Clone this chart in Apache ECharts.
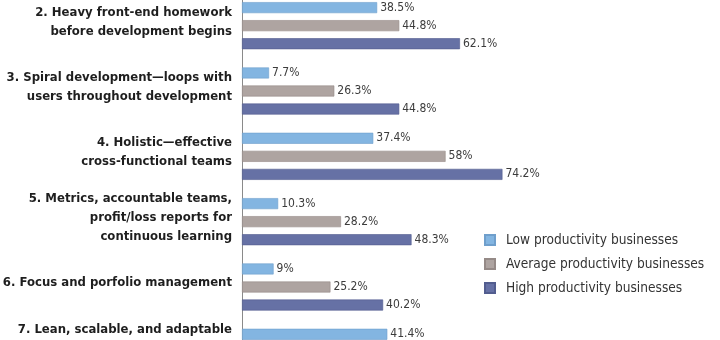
<!DOCTYPE html>
<html><head><meta charset="utf-8">
<script src="https://cdn.jsdelivr.net/npm/echarts@6/dist/echarts.min.js"></script>
<style>html,body{margin:0;padding:0;background:#fff}#c{width:720px;height:340px}</style>
</head><body><div id="c"></div>
<script>
const categories = [
  "2. Heavy front-end homework\nbefore development begins",
  "3. Spiral development\u2014loops with\nusers throughout development",
  "4. Holistic\u2014effective\ncross-functional teams",
  "5. Metrics, accountable teams,\nprofit/loss reports for\ncontinuous learning",
  "6. Focus and porfolio management",
  "7. Lean, scalable, and adaptable\n\n"
];
const seriesNames = ["Low productivity businesses", "Average productivity businesses", "High productivity businesses"];
const lowValues = [38.5, 7.7, 37.4, 10.3, 9, 41.4];
const avgValues = [44.8, 26.3, 58, 28.2, 25.2, null];
const highValues = [62.1, 44.8, 74.2, 48.3, 40.2, null];
const colors = ["#83b5e1", "#aea4a1", "#6671a5"];
const borders = ["#6f9fcc", "#958a87", "#525d8f"];

const FONT = "'Liberation Sans Narrow','DejaVu Sans Condensed','Arial Narrow',sans-serif";
const chart = echarts.init(document.getElementById('c'), null, {renderer: 'canvas'});
const mk = (name, data, i) => ({
  name, type: 'bar', data, barWidth: 11, barGap: '64%',
  itemStyle: {color: colors[i], borderColor: borders[i], borderWidth: 0.6},
  label: {show: true, position: 'right', distance: 3, formatter: p => p.value + '%',
          fontFamily: FONT, fontSize: 12, color: '#3c3c3c'},
  animation: false
});
const labelFmt = v => v.split('\n').map(l => '{a|' + (l || ' ') + '}').join('\n') + '\n{s| }';
chart.setOption({
  animation: false,
  textStyle: {fontFamily: FONT},
  grid: {left: 242, right: 127, top: -7, bottom: -45, containLabel: false, outerBoundsMode: 'none'},
  xAxis: {type: 'value', min: 0, max: 100, show: false},
  yAxis: {
    type: 'category', inverse: true, data: categories,
    axisLine: {show: true, lineStyle: {color: '#8a8a8a', width: 1}},
    axisTick: {show: false},
    splitLine: {show: false},
    axisLabel: {interval: 0, margin: 10, align: 'right', formatter: labelFmt,
                rich: {
                  a: {fontFamily: FONT, fontWeight: 'bold', fontSize: 13, lineHeight: 19, color: '#1e1e1e', align: 'right'},
                  s: {fontSize: 6, lineHeight: 8, align: 'right'}
                }}
  },
  legend: {
    orient: 'vertical', left: 484, top: 233, padding: 0, itemWidth: 10, itemHeight: 10, itemGap: 10,
    icon: 'rect', data: seriesNames,
    textStyle: {fontFamily: FONT, fontSize: 13.6, lineHeight: 14, color: '#333', padding: [0, 0, 0, 6]}
  },
  series: [mk(seriesNames[0], lowValues, 0), mk(seriesNames[1], avgValues, 1), mk(seriesNames[2], highValues, 2)]
});
</script></body></html>
